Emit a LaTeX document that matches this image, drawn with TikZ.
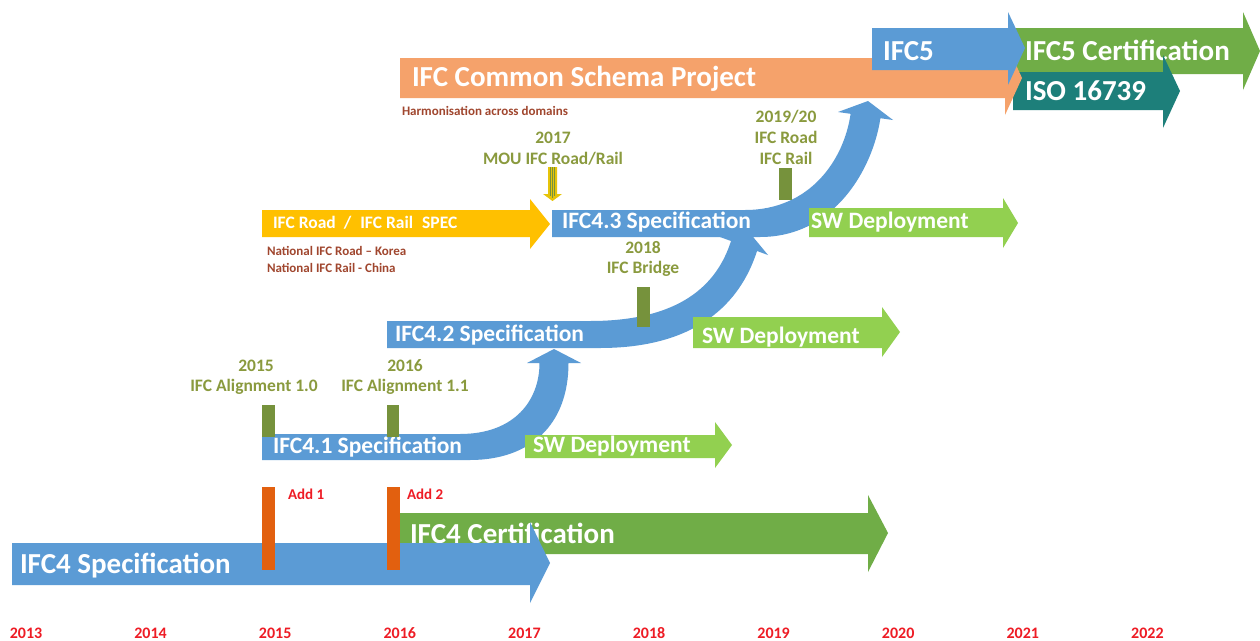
\documentclass[tikz,border=0pt]{standalone}
\usepackage{fontspec}
\setmainfont{Carlito}
\definecolor{cblue}{HTML}{5B9BD5}
\definecolor{cgreen}{HTML}{70AD47}
\definecolor{clime}{HTML}{92D050}
\definecolor{corange}{HTML}{F5A26B}
\definecolor{cyellow}{HTML}{FFC000}
\definecolor{cteal}{HTML}{1D7F7A}
\definecolor{cbar}{HTML}{E2600F}
\definecolor{colive}{HTML}{76923C}
\definecolor{colivetxt}{HTML}{8A9A3E}
\definecolor{cred}{HTML}{EE1C25}
\definecolor{cbrown}{HTML}{A0462E}
\definecolor{cmou}{HTML}{E6C40A}
\newcommand\sarrow[9]{\fill[#1] (#2,#3) -- (#5,#3) -- (#5,#6) -- (#8,#9) -- (#5,#7) -- (#5,#4) -- (#2,#4) -- cycle;}
\begin{document}
\begin{tikzpicture}[x=1pt,y=-1pt,
  every node/.style={inner sep=0pt, outer sep=0pt},
  bigtxt/.style={text=white, anchor=base west, font=\bfseries\fontsize{29}{34}\selectfont},
  midtxt/.style={text=white, anchor=base west, font=\bfseries\fontsize{23.5}{28}\selectfont},
  smtxt/.style={text=white, anchor=base west, font=\bfseries\fontsize{17.5}{21}\selectfont},
  olivelbl/.style={text=colivetxt, anchor=base, font=\bfseries\fontsize{17.5}{21}\selectfont},
  notelbl/.style={text=cbrown, anchor=base west, font=\bfseries\fontsize{13}{16}\selectfont},
  addlbl/.style={text=cred, anchor=base west, font=\bfseries\fontsize{15}{18}\selectfont},
  yearlbl/.style={text=cred, anchor=base, font=\bfseries\fontsize{16}{19}\selectfont},
  olivebar/.style={fill=colive},
  addbar/.style={fill=cbar}]
\fill[white] (0,0) rectangle (1260,640);
\useasboundingbox (0,0) rectangle (1260,640);

% ---- IFC4 row
\sarrow{cgreen}{400}{513}{554}{868}{495}{572}{888}{533}
\node[bigtxt] (cert4) at (410,543) {IFC4 Certification};
\sarrow{cblue}{12}{543}{585}{530}{522}{603}{550}{563}
\node[bigtxt] (spec4) at (20,573) {IFC4 Specification};
\fill[addbar] (262,487) rectangle (275,570);
\fill[addbar] (387,487) rectangle (400,570);
\node[addlbl] (add1) at (288,499) {Add 1};
\node[addlbl] (add2) at (407,499) {Add 2};

% ---- IFC4.1
\fill[cblue] (262,434) -- (460,434) .. controls (515,434) and (539.5,400) .. (539.5,363)
  -- (527,363) -- (554,349) -- (581,363) -- (568.5,363)
  .. controls (568.5,425) and (530,460) .. (470,460) -- (262,460) -- cycle;
\node[midtxt] (spec41) at (273,453) {IFC4.1 Specification};
\sarrow{clime}{525}{435}{458}{715}{422}{468}{732}{445}
\node[midtxt] (sw1) at (533,452) {SW Deployment};
\fill[olivebar] (262,405) rectangle (275,437);
\fill[olivebar] (387,405) rectangle (399,437);
\node[olivelbl] (l15a) at (256,371) {2015};
\node[olivelbl] (l15b) at (254,391) {IFC Alignment 1.0};
\node[olivelbl] (l16a) at (405,371) {2016};
\node[olivelbl] (l16b) at (405,391) {IFC Alignment 1.1};

% ---- IFC4.2
\fill[cblue] (387,321) -- (590,321) .. controls (680,321) and (717,285) .. (731,241)
  -- (720,237) -- (749,232) -- (768,255) -- (757,251)
  .. controls (743,295) and (705,348) .. (600,348) -- (387,348) -- cycle;
\node[midtxt] (spec42) at (395,341) {IFC4.2 Specification};
\sarrow{clime}{693}{317}{348}{882}{307}{357}{900}{332}
\node[midtxt] (sw2) at (702,343) {SW Deployment};
\fill[olivebar] (637,287) rectangle (650,327);
\node[olivelbl] (l18a) at (643,253) {2018};
\node[olivelbl] (l18b) at (643,273) {IFC Bridge};

% ---- Road / Rail
\sarrow{cyellow}{262}{210}{237}{530}{199}{249}{550}{224}
\node[smtxt] (road) at (273,228) {IFC Road\hspace{8pt}/\hspace{9pt}IFC Rail\hspace{9pt}SPEC};
\node[notelbl] (nat1) at (267,255) {National IFC Road – Korea};
\node[notelbl] (nat2) at (267,272) {National IFC Rail - China};
\fill[cmou] (548,167) -- (557,167) -- (557,194) -- (562,194) -- (552.5,201) -- (543,194) -- (548,194) -- cycle;
\draw[colive, line width=0.9pt] (550.3,167) -- (550.3,196) (552.6,167) -- (552.6,198) (554.9,167) -- (554.9,196);
\node[olivelbl] (l17a) at (553,143) {2017};
\node[olivelbl] (l17b) at (553,164) {MOU IFC Road/Rail};

% ---- IFC4.3
\fill[cblue] (552,210) -- (745,210) .. controls (810,210) and (844,160) .. (850.6,113.8)
  -- (838,112) -- (868,101) -- (893,120) -- (880.4,118.2)
  .. controls (873,168) and (835,237) .. (760,237) -- (552,237) -- cycle;
\node[midtxt] (spec43) at (562,228) {IFC4.3 Specification};
\sarrow{clime}{809}{208}{237}{1003}{198}{248}{1018}{223}
\node[midtxt] (sw3) at (811,228) {SW Deployment};
\fill[olivebar] (779,168) rectangle (792,200);
\node[olivelbl] (l19a) at (786,122) {2019/20};
\node[olivelbl] (l19b) at (786,143) {IFC Road};
\node[olivelbl] (l19c) at (786,164) {IFC Rail};

% ---- top row
\sarrow{cgreen}{1015}{28}{74}{1243}{12}{90}{1260}{51}
\node[bigtxt] (cert5) at (1025,60) {IFC5 Certification};
\sarrow{cteal}{1013}{72}{110}{1163}{55}{128}{1180}{91}
\node[bigtxt] (iso) at (1025,100) {ISO 16739};
\sarrow{corange}{400}{58}{98}{1005}{41}{115}{1022}{78}
\node[bigtxt] (common) at (412,86) {IFC Common Schema Project};
\node[notelbl] (harm) at (402,115) {Harmonisation across domains};
\sarrow{cblue}{872}{28}{70}{1008}{12}{85}{1025}{48}
\node[bigtxt] (ifc5) at (883,60) {IFC5};

% ---- years
\foreach \yr [count=\i from 0] in {2013,2014,2015,2016,2017,2018,2019,2020,2021,2022}
  \node[yearlbl] (y\yr) at (26+124.6*\i,638) {\yr};
\end{tikzpicture}
\end{document}
